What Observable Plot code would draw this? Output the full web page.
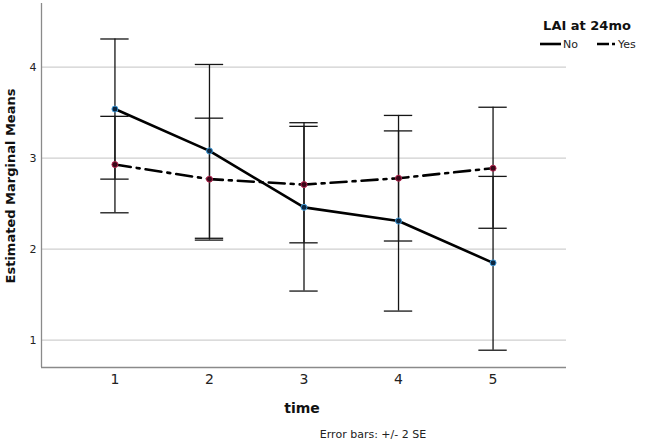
<!DOCTYPE html>
<html>
<head>
<meta charset="utf-8">
<script src="https://cdn.jsdelivr.net/npm/d3@7"></script>
<script src="https://cdn.jsdelivr.net/npm/@observablehq/plot@0.6"></script>
<style>
  body { margin: 0; background: #fff; }
  #chart svg { display: block; }
</style>
</head>
<body>
<div id="chart"></div>
<script>
// Estimated marginal means by time point, split by LAI at 24 months
const times = [1, 2, 3, 4, 5];
const groups = ["No", "Yes"];

const noMean = [3.54, 3.08, 2.46, 2.31, 1.85];
const noLow  = [2.77, 2.12, 1.54, 1.32, 0.89];
const noHigh = [4.31, 4.03, 3.39, 3.30, 2.80];

const yesMean = [2.93, 2.77, 2.71, 2.78, 2.89];
const yesLow  = [2.40, 2.10, 2.07, 2.09, 2.23];
const yesHigh = [3.46, 3.44, 3.35, 3.47, 3.56];

const yTicks = [1, 2, 3, 4];

const rows = [];
times.forEach((t, i) => {
  rows.push({time: t, group: "No",  mean: noMean[i],  lo: noLow[i],  hi: noHigh[i]});
  rows.push({time: t, group: "Yes", mean: yesMean[i], lo: yesLow[i], hi: yesHigh[i]});
});
const noRows = rows.filter(d => d.group === "No");
const yesRows = rows.filter(d => d.group === "Yes");

const font = "'DejaVu Sans', sans-serif";
const capHalf = 0.15;          // half-width of the error-bar caps, in time units
const dashDot = "16,6,3,6";
const xDomain = [0.223, 5.777];
const yDomain = [0.7, 4.7];

const W = 645, H = 446;
const M = {left: 41, right: 79, top: 3, bottom: 79};

const chart = Plot.plot({
  width: W,
  height: H,
  marginLeft: M.left,
  marginRight: M.right,
  marginTop: M.top,
  marginBottom: M.bottom,
  style: {fontFamily: font, background: "#fff", color: "#222"},
  x: {domain: xDomain},
  y: {domain: yDomain},
  marks: [
    Plot.gridY(yTicks, {stroke: "#cfcfcf", strokeOpacity: 1, strokeWidth: 1.3}),
    Plot.ruleX([xDomain[0]], {stroke: "#8a8a8a", strokeWidth: 1.3}),
    Plot.ruleY([yDomain[0]], {stroke: "#8a8a8a", strokeWidth: 1.3}),
    // error bars: ±2 SE
    Plot.ruleX(rows, {x: "time", y1: "lo", y2: "hi", stroke: "#151515", strokeWidth: 1.3}),
    Plot.ruleY(rows, {y: "lo", x1: d => d.time - capHalf, x2: d => d.time + capHalf, stroke: "#151515", strokeWidth: 1.3}),
    Plot.ruleY(rows, {y: "hi", x1: d => d.time - capHalf, x2: d => d.time + capHalf, stroke: "#151515", strokeWidth: 1.3}),
    // group means
    Plot.line(noRows, {x: "time", y: "mean", stroke: "#000", strokeWidth: 2.6}),
    Plot.line(yesRows, {x: "time", y: "mean", stroke: "#000", strokeWidth: 2.6, strokeDasharray: dashDot}),
    Plot.dot(rows, {
      x: "time", y: "mean", r: 3,
      fill: d => d.group === "No" ? "#0b2640" : "#3a0818",
      stroke: d => d.group === "No" ? "#3f9ad8" : "#b52550",
      strokeWidth: 1
    }),
    Plot.axisY(yTicks, {tickSize: 0, tickPadding: 5, fontSize: 11, label: null, tickFormat: d => String(d)}),
    Plot.axisX(times, {tickSize: 0, tickPadding: 7, fontSize: 14, label: null, tickFormat: d => String(d)})
  ]
});

document.getElementById("chart").append(chart);

const svg = d3.select(chart);

// axis titles and footnote
svg.append("text")
  .attr("transform", `translate(15,186) rotate(-90)`)
  .attr("text-anchor", "middle")
  .attr("font-family", font).attr("font-weight", "bold").attr("font-size", 13)
  .attr("fill", "#111")
  .text("Estimated Marginal Means");

svg.append("text")
  .attr("x", 302).attr("y", 413)
  .attr("text-anchor", "middle")
  .attr("font-family", font).attr("font-weight", "bold").attr("font-size", 14)
  .attr("fill", "#111")
  .text("time");

svg.append("text")
  .attr("x", 373).attr("y", 438)
  .attr("text-anchor", "middle")
  .attr("font-family", font).attr("font-size", 11)
  .attr("fill", "#222")
  .text("Error bars: +/- 2 SE");

// legend
const legend = svg.append("g").attr("font-family", font);
legend.append("text")
  .attr("x", 587).attr("y", 30)
  .attr("text-anchor", "middle")
  .attr("font-weight", "bold").attr("font-size", 13)
  .attr("fill", "#111")
  .text("LAI at 24mo");

const items = [
  {label: groups[0], x: 540, dash: null},
  {label: groups[1], x: 597, dash: "12,3,3,3"}
];
items.forEach(it => {
  legend.append("line")
    .attr("x1", it.x).attr("x2", it.x + (it.dash ? 18 : 21))
    .attr("y1", 44).attr("y2", 44)
    .attr("stroke", "#000").attr("stroke-width", 2.6)
    .attr("stroke-dasharray", it.dash);
  legend.append("text")
    .attr("x", it.x + (it.dash ? 21 : 23)).attr("y", 48)
    .attr("text-anchor", "start")
    .attr("font-size", 11).attr("fill", "#222")
    .text(it.label);
});
</script>
</body>
</html>
